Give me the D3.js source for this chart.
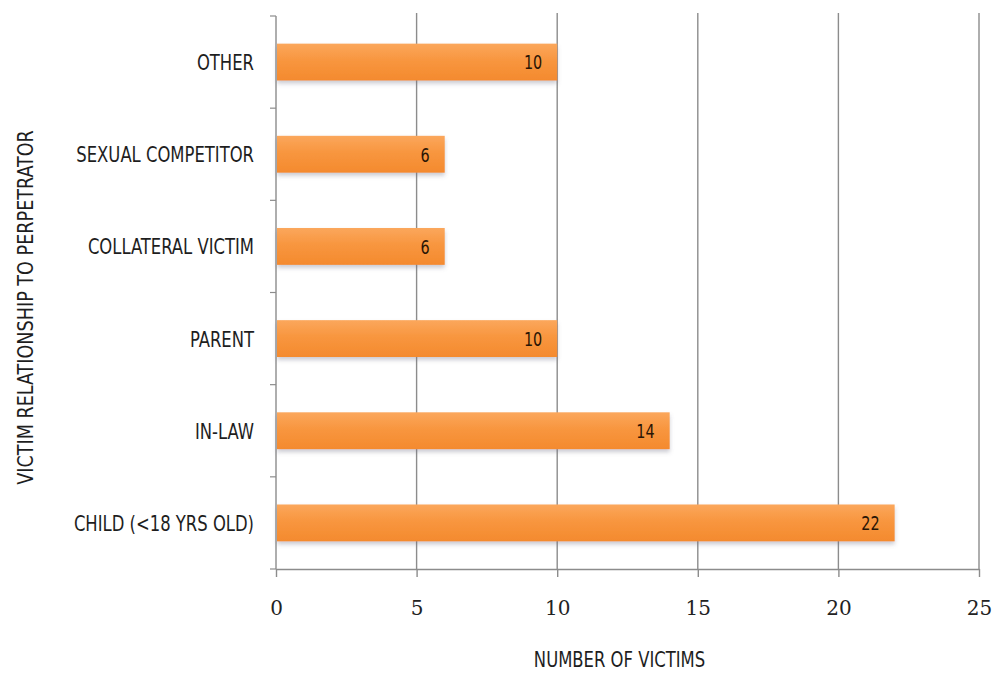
<!DOCTYPE html>
<html>
<head>
<meta charset="utf-8">
<script src="https://cdn.jsdelivr.net/npm/d3@7"></script>
<style>
  html, body { margin: 0; padding: 0; background: #fff; }
  svg { display: block; }
  .cond { font-family: "Liberation Sans Narrow", "Arial Narrow", "DejaVu Sans Condensed", sans-serif; font-stretch: condensed; }
</style>
</head>
<body>
<svg id="chart" width="993" height="673"></svg>
<script>
const categories = ["OTHER", "SEXUAL COMPETITOR", "COLLATERAL VICTIM", "PARENT", "IN-LAW", "CHILD (<18 YRS OLD)"];
const values = [10, 6, 6, 10, 14, 22];
const xTicks = [0, 5, 10, 15, 20, 25];
const xTitle = "NUMBER OF VICTIMS";
const yTitle = "VICTIM RELATIONSHIP TO PERPETRATOR";

const W = 993, H = 673;
const margin = { left: 276, right: 14, top: 16, bottom: 104 };
const svg = d3.select("#chart");

const x = d3.scaleLinear().domain([0, 25]).range([margin.left, W - margin.right]);
const y = d3.scaleBand().domain(categories)
  .range([margin.top, H - margin.bottom])
  .paddingInner(0.6).paddingOuter(0.3);

const defs = svg.append("defs");
const grad = defs.append("linearGradient").attr("id", "barGrad")
  .attr("x1", 0).attr("y1", 0).attr("x2", 0).attr("y2", 1);
grad.append("stop").attr("offset", "0%").attr("stop-color", "#fba75c");
grad.append("stop").attr("offset", "45%").attr("stop-color", "#f8963f");
grad.append("stop").attr("offset", "100%").attr("stop-color", "#f48a2e");
const filt = defs.append("filter").attr("id", "shadow")
  .attr("x", "-5%").attr("y", "-20%").attr("width", "110%").attr("height", "160%");
filt.append("feDropShadow").attr("dx", 0).attr("dy", 3).attr("stdDeviation", 2)
  .attr("flood-color", "#6a6a80").attr("flood-opacity", 0.35);

const axisColor = "#8c8c8c";
const y0 = margin.top, y1 = H - margin.bottom;

// vertical gridlines
svg.append("g").selectAll("line.grid").data(xTicks.filter(d => d > 0)).join("line")
  .attr("x1", d => x(d)).attr("x2", d => x(d))
  .attr("y1", y0 - 3).attr("y2", y1)
  .attr("stroke", axisColor).attr("stroke-width", 1.4);

// x axis
const xAxis = d3.axisBottom(x).tickValues(xTicks).tickSize(8).tickSizeOuter(0).tickPadding(24);
const gx = svg.append("g").attr("transform", `translate(0,${y1})`).call(xAxis);
gx.select(".domain").attr("stroke", axisColor).attr("stroke-width", 1.4);
gx.selectAll(".tick line").attr("stroke", axisColor).attr("stroke-width", 1.4);
gx.selectAll(".tick text")
  .attr("fill", "#222")
  .style("font-family", "'DejaVu Serif', 'Liberation Serif', serif")
  .style("font-size", "20px");

// y axis: line + ticks at band boundaries
const step = y.step();
const bounds = d3.range(categories.length + 1).map(i => y0 + i * step);
svg.append("line").attr("x1", x(0)).attr("x2", x(0)).attr("y1", y0).attr("y2", y1)
  .attr("stroke", axisColor).attr("stroke-width", 1.4);
svg.append("g").selectAll("line").data(bounds).join("line")
  .attr("x1", x(0) - 6).attr("x2", x(0))
  .attr("y1", d => d).attr("y2", d => d)
  .attr("stroke", axisColor).attr("stroke-width", 1.2);

const SX = 0.83;

// category labels
svg.append("g").selectAll("text").data(categories).join("text")
  .attr("class", "cond")
  .attr("transform", d => `translate(${x(0) - 22},${y(d) + y.bandwidth() / 2}) scale(${SX},1)`)
  .attr("dy", "0.36em")
  .attr("text-anchor", "end")
  .attr("fill", "#1e1e1e")
  .style("font-size", "22px")
  .text(d => d);

// bars
svg.append("g").selectAll("rect").data(values).join("rect")
  .attr("x", x(0) + 1)
  .attr("y", (d, i) => y(categories[i]))
  .attr("width", d => x(d) - x(0) - 1)
  .attr("height", y.bandwidth())
  .attr("fill", "url(#barGrad)")
  .attr("filter", "url(#shadow)");

// value labels
svg.append("g").selectAll("text").data(values).join("text")
  .attr("class", "cond")
  .attr("transform", (d, i) => `translate(${x(d) - 15},${y(categories[i]) + y.bandwidth() / 2}) scale(0.8,1)`)
  .attr("dy", "0.37em")
  .attr("text-anchor", "end")
  .attr("fill", "#2a1505")
  .style("font-size", "20px")
  .text(d => d);

// axis titles
svg.append("text").attr("class", "cond")
  .attr("transform", `translate(${(x(0) + x(25)) / 2 - 8},667) scale(${SX},1)`)
  .attr("text-anchor", "middle").attr("fill", "#1e1e1e")
  .style("font-size", "22px").text(xTitle);

svg.append("text").attr("class", "cond")
  .attr("transform", `translate(33,${(y0 + y1) / 2 + 15}) rotate(-90) scale(0.89,1)`)
  .attr("text-anchor", "middle").attr("fill", "#1e1e1e")
  .style("font-size", "22px").text(yTitle);
</script>
</body>
</html>
